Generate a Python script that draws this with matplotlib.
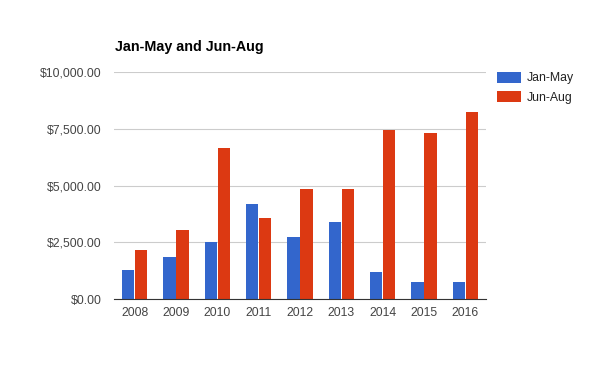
import matplotlib
matplotlib.use('Agg')
import matplotlib.pyplot as plt
import numpy as np
from matplotlib.ticker import FuncFormatter

plt.rcParams['font.family'] = ['Liberation Sans', 'DejaVu Sans']

years = ['2008', '2009', '2010', '2011', '2012', '2013', '2014', '2015', '2016']
jan_may = [1290, 1860, 2520, 4190, 2740, 3400, 1200, 760, 760]
jun_aug = [2170, 3045, 6650, 3570, 4850, 4850, 7440, 7310, 8230]
series_names = ['Jan-May', 'Jun-Aug']
title = 'Jan-May and Jun-Aug'

fig = plt.figure(figsize=(6, 3.71), dpi=100)
ax = fig.add_axes([0.19, 0.194, 0.62, 0.612])

x = np.arange(len(years))
w = 0.3
ax.bar(x - w / 2 - 0.01, jan_may, w, color='#3366cc', label=series_names[0], zorder=3)
ax.bar(x + w / 2 + 0.01, jun_aug, w, color='#dc3912', label=series_names[1], zorder=3)

ax.set_xlim(-0.5, len(years) - 0.5)
ax.set_ylim(0, 10000)
ax.set_yticks([0, 2500, 5000, 7500, 10000])
ax.yaxis.set_major_formatter(FuncFormatter(lambda v, p: '${:,.2f}'.format(v)))
ax.set_xticks(x)
ax.set_xticklabels(years)
ax.grid(axis='y', color='#cccccc', linewidth=0.8, zorder=0)
for s in ['top', 'right', 'left']:
    ax.spines[s].set_visible(False)
ax.spines['bottom'].set_color('#333333')
ax.spines['bottom'].set_zorder(4)
ax.tick_params(length=0, labelsize=8.8, colors='#444444', pad=9)
ax.tick_params(axis='x', pad=6)

fig.text(0.192, 0.873, title, fontsize=10.3, fontweight='bold', color='black', va='center')

leg = ax.legend(loc='upper left', bbox_to_anchor=(1.0, 1.05), frameon=False,
                fontsize=8.8, handlelength=2.0, handleheight=1.0, labelspacing=0.55,
                handletextpad=0.45)
for t in leg.get_texts():
    t.set_color('#222222')

fig.savefig('out.png', dpi=100)
